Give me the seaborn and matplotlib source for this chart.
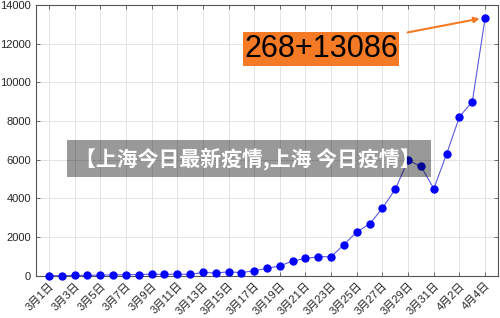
import numpy as np
import pandas as pd
import matplotlib
matplotlib.use('Agg')
import matplotlib.pyplot as plt
import seaborn as sns
from matplotlib.patches import Rectangle

sns.set_style('ticks')
plt.rcParams['font.family'] = ['Liberation Sans', 'Noto Sans CJK SC']
plt.rcParams['axes.unicode_minus'] = False

# 上海每日新增（确诊+无症状）
dates = [f'3月{d}日' for d in range(1, 32)] + [f'4月{d}日' for d in range(1, 5)]
cases = [2, 5, 16, 19, 28, 45, 51, 62, 76, 64, 83, 65, 169, 139, 202, 158, 260,
         374, 509, 758, 896, 981, 983, 1609, 2269, 2676, 3500, 4477, 5982, 5653,
         4502, 6311, 8226, 9006, 13354]
note = '268+13086'
banner = '【上海今日最新疫情,上海 今日疫情】'

df = pd.DataFrame({'day': np.arange(len(dates)), 'cases': cases})

fig = plt.figure(figsize=(5, 3.18), dpi=100)
ax = fig.add_axes([0.072, 0.133, 0.924, 0.851])

sns.lineplot(data=df, x='day', y='cases', color='#5a5ae0', lw=0.8, ax=ax)
sns.scatterplot(data=df, x='day', y='cases', color='#0000ff', s=36,
                edgecolor='#0000ff', linewidth=0, zorder=3, clip_on=False, ax=ax)

ax.set_xlim(-1, 35)
ax.set_ylim(0, 14000)
ax.set_yticks(range(0, 14001, 2000))
ax.set_xticks(df['day'][::2])
ax.set_xticklabels(dates[::2], rotation=45, ha='right', rotation_mode='anchor', fontsize=8)
ax.tick_params(axis='y', labelsize=8)
ax.tick_params(direction='in', top=True, right=True, length=3, color='#555555', width=0.6)
ax.grid(True, color='#e3e3e3', lw=0.7)
ax.set_axisbelow(True)
for s in ax.spines.values():
    s.set_color('#555555')
    s.set_linewidth(0.8)
ax.set_xlabel('')
ax.set_ylabel('')

ax.annotate(note, xy=(34, 13354), xycoords='data',
            xytext=(321, 269), textcoords='figure pixels',
            ha='center', va='center', fontsize=22, color='black',
            bbox=dict(boxstyle='square,pad=0.05', fc='#f47a26', ec='none'),
            arrowprops=dict(arrowstyle='-|>', color='#f47a26', lw=1.5,
                            mutation_scale=8, shrinkA=6, shrinkB=4))

# 灰色横幅
fig.patches.append(Rectangle((67 / 500, 1 - 177 / 318), 364 / 500, 37 / 318,
                             transform=fig.transFigure, fc='black', alpha=0.4,
                             ec='none', zorder=10))
fig.text(248 / 500, 1 - 159 / 318, banner, ha='center', va='center', fontsize=15,
         color='white', fontweight='bold', family=['Noto Sans CJK SC', 'DejaVu Sans'],
         zorder=11)

fig.savefig('out.png', dpi=100)
